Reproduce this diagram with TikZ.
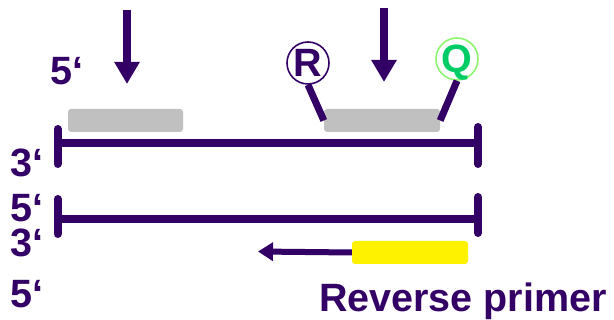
\documentclass[tikz,border=0pt]{standalone}
\usepackage{fontspec}
\setmainfont{Liberation Sans}
\usetikzlibrary{arrows.meta}
\definecolor{dpurple}{RGB}{51,0,102}
\definecolor{probegray}{RGB}{192,192,192}
\definecolor{qgreen}{RGB}{0,204,102}
\definecolor{qring}{RGB}{140,245,110}
\begin{document}
\begin{tikzpicture}[x=1pt,y=-1pt,
  strand/.style={draw=dpurple, line width=8pt},
  tick/.style={draw=dpurple, line width=8pt, line cap=round},
  lbl/.style={text=dpurple, font=\fontsize{39.5}{39.5}\selectfont\bfseries, inner sep=0pt, anchor=base west},
  boxnode/.style={rounded corners=3pt, minimum width=116pt, minimum height=23pt, inner sep=0pt, draw=none},
  dye/.style={circle, line width=1.6pt, minimum size=42pt, inner sep=0pt, text height=28pt, text depth=0pt, font=\fontsize{39.5}{39.5}\selectfont\bfseries},
  downarrow/.style={draw=dpurple, line width=8pt, -{Triangle[width=24pt,length=22pt]}},
  linker/.style={draw=dpurple, line width=7pt}
]
\useasboundingbox (0,0) rectangle (614,320);

% labels
\node[lbl] (l1) at (50,85) {5‘};
\node[lbl] (l2) at (10,177) {3‘};
\node[lbl] (l3) at (10,222) {5‘};
\node[lbl] (l4) at (10,257) {3‘};
\node[lbl] (l5) at (10,308) {5‘};
\node[lbl] (rp) at (319,312) {Reverse primer};

% strands
\coordinate (tl) at (57.5,143);
\coordinate (tr) at (478,143);
\coordinate (bl) at (57.5,219);
\coordinate (br) at (478,219);
\coordinate (tlt) at (57.5,129); \coordinate (tlb) at (57.5,164);
\coordinate (trt) at (478,127);  \coordinate (trb) at (478,164);
\coordinate (blt) at (57.5,199); \coordinate (blb) at (57.5,234);
\coordinate (brt) at (478,197);  \coordinate (brb) at (478,233);
\draw[strand] (tl) -- (tr);
\draw[strand] (bl) -- (br);
\draw[tick] (tlt) -- (tlb);
\draw[tick] (trt) -- (trb);
\draw[tick] (blt) -- (blb);
\draw[tick] (brt) -- (brb);

% boxes
\node[boxnode, fill=probegray, minimum width=115pt] (fp) at (125.5,120.5) {};
\node[boxnode, fill=probegray] (probe) at (382,120.5) {};
\node[boxnode, fill=yellow] (rev) at (410,252.5) {};

% dyes
\node[dye, draw=dpurple, text=dpurple] (R) at (308,63) {R};
\node[dye, draw=qring, text=qgreen] (Q) at (457,59) {Q};
\draw[linker] (R.south) -- (probe.west);
\draw[linker] (Q.south) -- (probe.east);

% down arrows
\coordinate (a1s) at (127,10); \coordinate (a1e) at (127,84);
\coordinate (a2s) at (384,8);  \coordinate (a2e) at (384,82);
\draw[downarrow] (a1s) -- (a1e);
\draw[downarrow] (a2s) -- (a2e);

% extension arrow
\coordinate (ext) at (258,251.5);
\draw[draw=dpurple, line width=6pt, -{Triangle[width=18pt,length=15pt]}] (rev.west) -- (ext);
\end{tikzpicture}
\end{document}
